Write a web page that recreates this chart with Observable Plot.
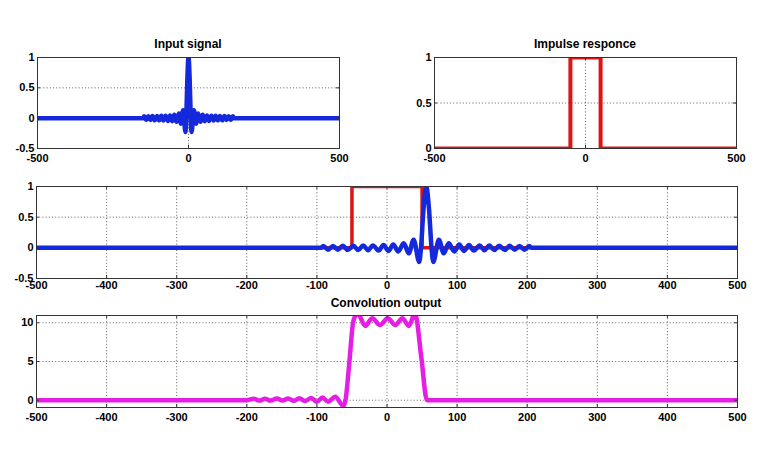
<!DOCTYPE html>
<html>
<head>
<meta charset="utf-8">
<script src="https://cdn.jsdelivr.net/npm/d3@7"></script>
<script src="https://cdn.jsdelivr.net/npm/@observablehq/plot@0.6"></script>
<style>
  html, body { margin: 0; padding: 0; background: #fff; }
  #chart { position: relative; width: 768px; height: 476px; background: #fff; overflow: hidden; }
  .ttl { position: absolute; font-family: 'Liberation Sans', Arial, sans-serif; font-weight: bold; font-size: 12px;
         line-height: 14px; height: 14px; white-space: nowrap; transform: translateX(-50%); color: #000; }
</style>
</head>
<body>
<div id="chart"></div>
<script>
// ---------------- data ----------------
const timeDomain = [-500, 500];

// input signal (non-zero part)
const sigX = [-150, -147, -140, -133, -126, -119, -112, -104, -97, -90, -83, -76, -68, -61, -54, -47, -40, -32, -25, -18, -10, -7.5, -4, 0,
              4, 7.5, 10, 18, 25, 32, 40, 47, 54, 61, 68, 76, 83, 90, 97, 104, 112, 119, 126, 133, 140, 147, 150];
const sigY = [0, 0.03, -0.03, 0.03, -0.03, 0.035, -0.035, 0.035, -0.035, 0.04, -0.04, 0.04, -0.045, 0.045, -0.05, 0.055, -0.06, 0.075, -0.09, 0.13, -0.23, 0, 0.62, 1,
              0.62, 0, -0.23, 0.13, -0.09, 0.075, -0.06, 0.055, -0.05, 0.045, -0.045, 0.04, -0.04, 0.04, -0.035, 0.035, -0.035, 0.035, -0.03, 0.03, -0.03, 0.03, 0];

// shift of the signal in the middle panel
const lag = 56;

// impulse response (rectangle)
const rectX = [-50, -50, 50, 50];
const rectY = [0, 1, 1, 0];

// convolution output
const convX = [-200, -190, -182, -174, -166, -157, -149, -141, -133, -125, -117, -108, -100, -92, -84, -74, -62, -59, -54, -48, -42,
               -31, -21, -10, 1, 12, 22, 31, 40, 49, 57];
const convY = [0, 0.2, -0.05, 0.2, -0.05, 0.22, -0.05, 0.22, -0.08, 0.25, -0.1, 0.28, -0.2, 0.35, -0.2, 0.45, -0.75, 0.1, 4.6, 10.2, 11.2,
               9.6, 10.6, 9.7, 10.6, 9.7, 10.6, 9.6, 11.2, 5.5, 0];

// ticks
const xTicksCoarse = [-500, 0, 500];
const xTicksFine = [-500, -400, -300, -200, -100, 0, 100, 200, 300, 400, 500];
const yTicksSignal = [-0.5, 0, 0.5, 1];
const yTicksImpulse = [0, 0.5, 1];
const yTicksConv = [0, 5, 10];

const ySignalDomain = [-0.5, 1];
const yImpulseDomain = [0, 1];
const yConvDomain = [-0.94, 10.94];

const titles = ["Input signal", "Impulse responce", "Convolution output"];

// ---------------- helpers ----------------
function series(xs, ys, shift = 0) {
  return [{x: timeDomain[0], y: 0}, ...xs.map((x, i) => ({x: x + shift, y: ys[i]})), {x: timeDomain[1], y: 0}];
}

const BLUE = "#1428dc", RED = "#dc1414", MAGENTA = "#e41ee4";
const root = document.getElementById("chart");

function panel({left, top, right, bottom, yDomain, xTicks, yTicks, xPad, marks}) {
  const mL = 40, mR = 14, mT = 6, mB = 24;
  const pw = right - left, ph = bottom - top;
  const gridStyle = {stroke: "#444", strokeOpacity: 0.85, strokeDasharray: "1,2.2", strokeWidth: 1};
  const tickStyle = {stroke: "#333", strokeWidth: 1};
  const chart = Plot.plot({
    width: pw + mL + mR,
    height: ph + mT + mB,
    marginLeft: mL, marginRight: mR, marginTop: mT, marginBottom: mB,
    x: {domain: timeDomain},
    y: {domain: yDomain},
    style: {background: "transparent", fontFamily: "'Liberation Sans', Arial, sans-serif", fontSize: "11px",
            fontWeight: "bold", color: "#000", overflow: "visible"},
    marks: [
      Plot.gridX(xTicks, gridStyle),
      Plot.gridY(yTicks, gridStyle),
      ...marks,
      Plot.ruleX(xTicks, {...tickStyle, insetTop: ph - 3}),
      Plot.ruleX(xTicks, {...tickStyle, insetBottom: ph - 3}),
      Plot.ruleY(yTicks, {...tickStyle, insetRight: pw - 3}),
      Plot.ruleY(yTicks, {...tickStyle, insetLeft: pw - 3}),
      Plot.frame({stroke: "#333", strokeWidth: 1}),
      Plot.axisX(xTicks, {tickSize: 0, tickPadding: xPad, tickFormat: d => String(d), label: null, fill: "#000"}),
      Plot.axisY(yTicks, {tickSize: 0, tickPadding: 3, tickFormat: d => String(d), label: null, fill: "#000"})
    ]
  });
  chart.style.position = "absolute";
  chart.style.left = (left - mL) + "px";
  chart.style.top = (top - mT) + "px";
  root.appendChild(chart);
}

function title(text, cx, top) {
  const d = document.createElement("div");
  d.className = "ttl";
  d.textContent = text;
  d.style.left = cx + "px";
  d.style.top = top + "px";
  root.appendChild(d);
}

const sig = series(sigX, sigY);
const sigShifted = series(sigX, sigY, lag);
const rect = series(rectX, rectY);
const conv = series(convX, convY);

// panel 1: input signal
panel({left: 37, top: 57, right: 339, bottom: 148, yDomain: ySignalDomain, xTicks: xTicksCoarse, yTicks: yTicksSignal, xPad: 6,
  marks: [Plot.line(sig, {x: "x", y: "y", stroke: BLUE, strokeWidth: 4.5, curve: "monotone-x", clip: true})]});
title(titles[0], 188, 37);

// panel 2: impulse response
panel({left: 434, top: 57, right: 736, bottom: 148, yDomain: yImpulseDomain, xTicks: xTicksCoarse, yTicks: yTicksImpulse, xPad: 6,
  marks: [Plot.line(rect, {x: "x", y: "y", stroke: RED, strokeWidth: 4, curve: "linear", clip: true})]});
title(titles[1], 585, 37);

// panel 3: overlap
panel({left: 36, top: 186, right: 737, bottom: 278, yDomain: ySignalDomain, xTicks: xTicksFine, yTicks: yTicksSignal, xPad: 3,
  marks: [
    Plot.line(rect, {x: "x", y: "y", stroke: RED, strokeWidth: 3.5, curve: "linear", clip: true}),
    Plot.line(sigShifted, {x: "x", y: "y", stroke: BLUE, strokeWidth: 4.5, curve: "monotone-x", clip: true})
  ]});

// panel 4: convolution output
panel({left: 36, top: 315, right: 737, bottom: 407, yDomain: yConvDomain, xTicks: xTicksFine, yTicks: yTicksConv, xPad: 6,
  marks: [Plot.line(conv, {x: "x", y: "y", stroke: MAGENTA, strokeWidth: 4.5, curve: "monotone-x", clip: true})]});
title(titles[2], 386, 296);
</script>
</body>
</html>
